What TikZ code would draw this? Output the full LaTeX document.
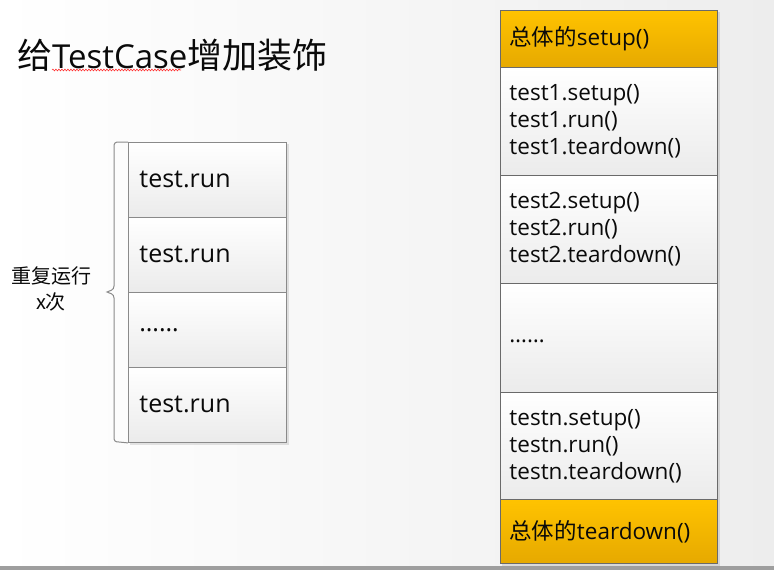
\documentclass[tikz,border=0pt]{standalone}
\usepackage{fontspec}
\setmainfont{Open Sans}
\newfontfamily\cjk{Noto Sans CJK SC}
\usetikzlibrary{decorations.pathmorphing}
\definecolor{bgright}{HTML}{EDEDED}
\definecolor{cellgray}{HTML}{EBEBEB}
\definecolor{lborder}{HTML}{8A8A8A}
\definecolor{rborder}{HTML}{6A6A6A}
\definecolor{orangetop}{HTML}{FFC300}
\definecolor{orangebot}{HTML}{E6A900}
\definecolor{txt}{HTML}{0A0A0A}
\tikzset{
  lcell/.style={draw=lborder, line width=0.9pt, top color=white, bottom color=cellgray,
    minimum width=158pt, minimum height=75pt, anchor=north west, inner xsep=11pt,
    inner ysep=0pt, text width=136pt, align=left, text=txt,
    font=\fontsize{25}{30}\selectfont},
  rcell/.style={draw=rborder, line width=0.9pt, top color=white, bottom color=cellgray,
    minimum width=217pt, anchor=north west, inner xsep=9pt, inner ysep=0pt,
    text width=199pt, align=left, text=txt,
    font=\fontsize{22.5}{27}\selectfont},
  ocell/.style={rcell, top color=orangetop, bottom color=orangebot},
  bracestyle/.style={draw=lborder, line width=1pt},
  shadowbox/.style={fill=black, opacity=0.10, draw=none},
}
\begin{document}
\begin{tikzpicture}[x=1pt,y=-1pt]
\useasboundingbox (0,0) rectangle (774,570);
% background
\shade[left color=white, right color=bgright, draw=none] (0,0) rectangle (774,566);
\fill[black!38] (0,566) rectangle (774,570);
% title
\node[anchor=west, inner sep=0pt, text=txt, font=\fontsize{33}{40}\selectfont] (title) at (17,55)
  {{\cjk\fontsize{35}{40}\selectfont 给}TestCase{\cjk\fontsize{35}{40}\selectfont 增加装饰}};
\draw[red!80, line width=0.6pt, decorate, decoration={snake, amplitude=0.9pt, segment length=3pt}]
  (52,70) coordinate (wl) -- (181,70) coordinate (wr);
% left shadow
\fill[shadowbox] (130,144) rectangle (289,445);
% left column
\node[lcell] (l1) at (128,142) {\raisebox{1.5pt}{test.run}};
\node[lcell] (l2) at (128,217) {\raisebox{1.5pt}{test.run}};
\node[lcell] (l3) at (128,292) {\raisebox{-3pt}{……}};
\node[lcell] (l4) at (128,367) {\raisebox{1.5pt}{test.run}};
% brace
\draw[bracestyle] (l1.north west) -- (119,142) .. controls (115,142) and (114,143) .. (114,147)
  -- (114,286) .. controls (114,290) and (110,291) .. (107,292) coordinate (tip)
  .. controls (110,293) and (114,294) .. (114,298)
  -- (114,437) .. controls (114,441) and (115,442) .. (119,442) -- (l4.south west);
\node[align=center, inner sep=0pt, text=txt, font=\cjk\fontsize{20}{26}\selectfont] (lbl) at (51,289)
  {重复运行\\x次};
% right shadow
\fill[shadowbox] (502,12) rectangle (720,566);
% right column
\node[ocell, minimum height=57pt] (r0) at (500,10) {{\cjk 总体的}setup()};
\node[rcell, minimum height=108pt] (r1) at (500,67) {test1.setup()\\test1.run()\\test1.teardown()};
\node[rcell, minimum height=108pt] (r2) at (500,175) {test2.setup()\\test2.run()\\test2.teardown()};
\node[rcell, minimum height=109pt] (r3) at (500,283) {\raisebox{-9pt}{……}};
\node[rcell, minimum height=107pt] (r4) at (500,392) {testn.setup()\\testn.run()\\testn.teardown()};
\node[ocell, minimum height=64pt] (r5) at (500,499) {{\cjk 总体的}teardown()};
\end{tikzpicture}
\end{document}
